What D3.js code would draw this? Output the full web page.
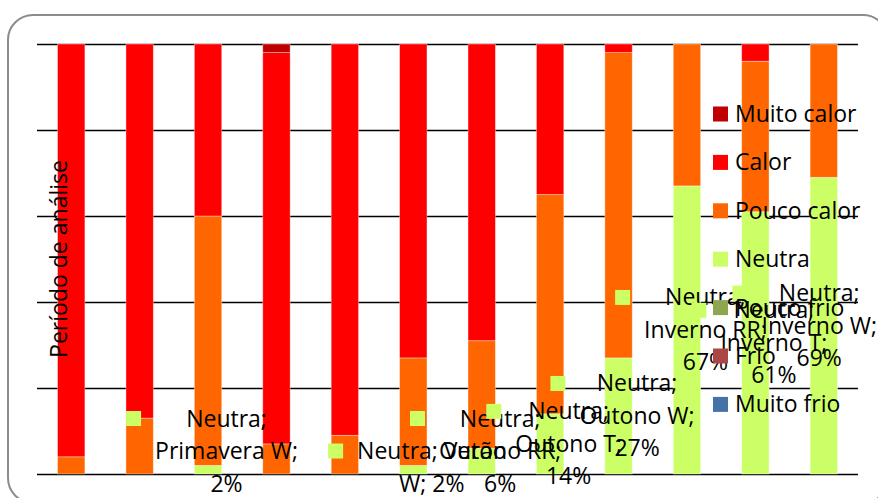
<!DOCTYPE html>
<html>
<head>
<meta charset="utf-8">
<script src="https://cdn.jsdelivr.net/npm/d3@7"></script>
<style>
   body { margin: 0; background: #fff; }
   svg text { font-family: "Open Sans", sans-serif; font-size: 23px; fill: #000; }
</style>
</head>
<body>
<div id="chart"></div>
<script>
// conforto térmico por estação, 100% empilhado

var categories = ["Primavera RR", "Primavera T", "Primavera W",
                  "Verão RR", "Verão T", "Verão W",
                  "Outono RR", "Outono T", "Outono W",
                  "Inverno RR", "Inverno T", "Inverno W"];

// series from bottom to top of the stack
var series_names = ["Muito frio", "Frio", "Pouco frio", "Neutra", "Pouco calor", "Calor", "Muito calor"];

var muito_frio  = [0, 0, 0, 0, 0, 0, 0, 0, 0, 0, 0, 0];
var frio        = [0, 0, 0, 0, 0, 0, 0, 0, 0, 0, 0, 0];
var pouco_frio  = [0, 0, 0, 0, 0, 0, 0, 0, 0, 0, 0, 0];
var neutra      = [0, 0, 2, 0, 0, 2, 6, 14, 27, 67, 61, 69];
var pouco_calor = [4, 13, 58, 7, 9, 25, 25, 51, 71, 33, 35, 31];
var calor       = [96, 87, 40, 91, 91, 73, 69, 35, 2, 0, 4, 0];
var muito_calor = [0, 0, 0, 2, 0, 0, 0, 0, 0, 0, 0, 0];

var y_ticks = [0, 20, 40, 60, 80, 100];
var axis_title = "Período de análise";
var labelled_series = "Neutra";

var colors = {
   "Muito frio": "#4572A7",
   "Frio": "#AA4643",
   "Pouco frio": "#8EA64F",
   "Neutra": "#CCFF66",
   "Pouco calor": "#FF6600",
   "Calor": "#FF0000",
   "Muito calor": "#C00000"
};

var width = 878, height = 498;
var left = 37, right = 858, top_y = 44, bottom = 474;
var line_h = 32.5;

// build table rows for d3.stack
var value_lists = [muito_frio, frio, pouco_frio, neutra, pouco_calor, calor, muito_calor];
var rows = categories.map(function (c, i) {
   var r = {cat: c};
   series_names.forEach(function (s, k) { r[s] = value_lists[k][i]; });
   return r;
});

var stacked = d3.stack().keys(series_names)(rows);

var x = d3.scaleBand().domain(categories).range([left, right]).paddingInner(0.6).paddingOuter(0.3);
var y = d3.scaleLinear().domain([0, 100]).range([bottom, top_y]);

var svg = d3.select("#chart").append("svg")
   .attr("width", width)
   .attr("height", height);

// rounded frame round the chart
svg.append("rect")
   .attr("x", 8).attr("y", 15)
   .attr("width", 880).attr("height", 488)
   .attr("rx", 25).attr("ry", 25)
   .attr("fill", "none")
   .attr("stroke", "#8c8c8c")
   .attr("stroke-width", 2);

// gridlines
var grid = svg.append("g")
   .attr("transform", "translate(" + left + ",0)")
   .call(d3.axisLeft(y).tickValues(y_ticks).tickSize(-(right - left)).tickFormat(""));
grid.select(".domain").remove();
grid.selectAll("line").attr("stroke", "#000").attr("stroke-width", 1.5);

// bars
svg.append("g").selectAll("g")
   .data(stacked)
   .enter().append("g")
   .attr("fill", function (d) { return colors[d.key]; })
   .selectAll("rect")
   .data(function (d) { return d; })
   .enter().append("rect")
   .attr("x", function (d) { return x(d.data.cat); })
   .attr("y", function (d) { return y(d[1]); })
   .attr("width", x.bandwidth())
   .attr("height", function (d) { return y(d[0]) - y(d[1]); })
   .attr("stroke", "rgba(255,255,255,0.45)")
   .attr("stroke-width", 0.8);

// axis title
svg.append("text")
   .attr("transform", "translate(67," + ((top_y + bottom) / 2) + ") rotate(-90)")
   .attr("text-anchor", "middle")
   .text(axis_title);

// data labels of the neutral series, with legend key
var label_g = svg.append("g");
var measurer = svg.append("text").attr("visibility", "hidden");

function text_width(s) {
   measurer.text(s);
   return measurer.node().getComputedTextLength();
}

function wrap_words(s, max_w) {
   var words = s.split(" ");
   var lines = [];
   var cur = words[0];
   for (var i = 1; i < words.length; i++) {
      var test = cur + " " + words[i];
      if (text_width(test) > max_w) {
         lines.push(cur);
         cur = words[i];
      } else {
         cur = test;
      }
   }
   lines.push(cur);
   return lines;
}

var lab_layer = stacked[series_names.indexOf(labelled_series)];
lab_layer.forEach(function (d, i) {
   var v = d[1] - d[0];
   if (v <= 0) return;
   var lines = wrap_words(labelled_series + "; " + d.data.cat + "; " + v + "%", 154);
   var widest = d3.max(lines, text_width);
   var cx = Math.min(x(d.data.cat) + x.bandwidth() / 2 + 18.5, 877 - widest / 2);
   var first = y((d[0] + d[1]) / 2) - (lines.length - 1) / 2 * line_h;
   var last = first + (lines.length - 1) * line_h;
   if (last > 483.5) first -= last - 483.5;

   label_g.append("rect")
      .attr("x", cx - widest / 2 - 14 - 15)
      .attr("y", first - 7.5)
      .attr("width", 15).attr("height", 15)
      .attr("fill", colors[labelled_series]);

   lines.forEach(function (ln, k) {
      label_g.append("text")
         .attr("x", cx)
         .attr("y", first + k * line_h + 8)
         .attr("text-anchor", "middle")
         .text(ln);
   });
});
measurer.remove();

// legend, top entry is the last series
var legend_names = series_names.slice().reverse();
var legend = svg.append("g").selectAll("g")
   .data(legend_names)
   .enter().append("g")
   .attr("transform", function (d, i) { return "translate(713," + (114 + i * 48.4) + ")"; });

legend.append("rect")
   .attr("x", 0).attr("y", -7.5)
   .attr("width", 15).attr("height", 15)
   .attr("fill", function (d) { return colors[d]; });

legend.append("text")
   .attr("x", 22).attr("y", 8)
   .text(function (d) { return d; });
</script>
</body>
</html>
